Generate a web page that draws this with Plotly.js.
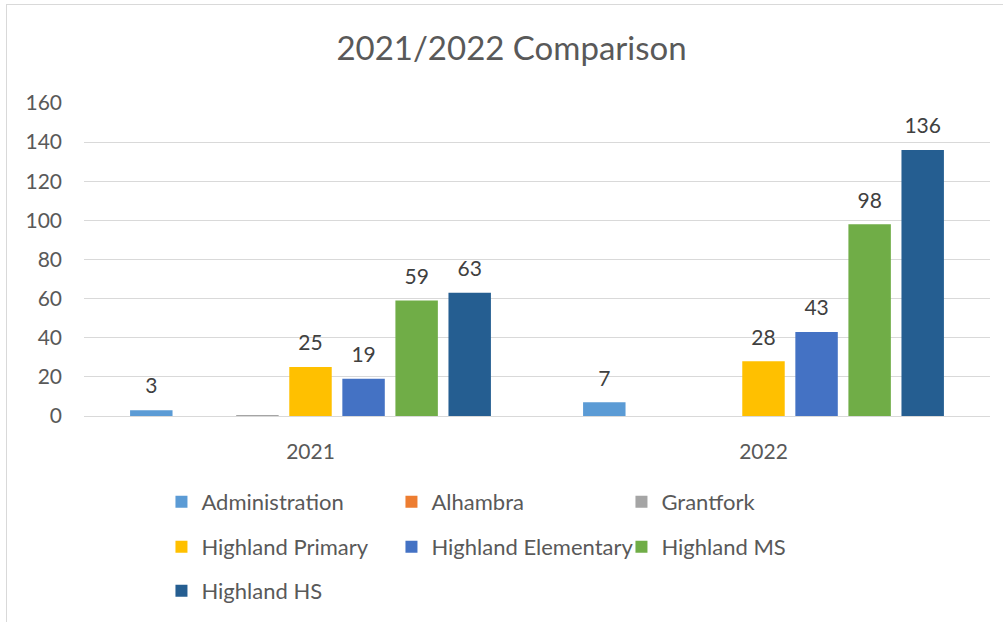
<!DOCTYPE html>
<html>
<head>
<meta charset="utf-8">
<script src="https://cdn.plot.ly/plotly-3.0.1.min.js"></script>
<style>
html,body{margin:0;padding:0;background:#fff;}
#chart{position:absolute;left:0;top:0;width:1003px;height:622px;}
#frame{position:absolute;left:6px;top:4px;width:1000px;height:620px;border:1px solid #d9d9d9;pointer-events:none;}
</style>
</head>
<body>
<div id="chart"></div>
<div id="frame"></div>
<script>
const years = ['2021', '2022'];
const seriesNames = ['Administration', 'Alhambra', 'Grantfork', 'Highland Primary', 'Highland Elementary', 'Highland MS', 'Highland HS'];
const administration = [3, 7];
const alhambra = [null, null];
const grantfork = [0.5, null];
const highlandPrimary = [25, 28];
const highlandElementary = [19, 43];
const highlandMS = [59, 98];
const highlandHS = [63, 136];
const colors = ['#5B9BD5', '#ED7D31', '#A5A5A5', '#FFC000', '#4472C4', '#70AD47', '#255E91'];

const allValues = [administration, alhambra, grantfork, highlandPrimary, highlandElementary, highlandMS, highlandHS];
const legendRows = ['legend', 'legend', 'legend', 'legend2', 'legend2', 'legend2', 'legend3'];
const FONT = 'Lato, "Open Sans", sans-serif';

const traces = allValues.map((vals, i) => ({
  type: 'bar',
  name: seriesNames[i],
  legend: legendRows[i],
  x: years,
  y: vals,
  marker: {color: colors[i]},
  text: vals.map(v => (v !== null && v >= 1) ? '<span style="font-size:21px">' + v + '</span><br>\u00a0' : ''),
  textposition: 'outside',
  constraintext: 'none',
  cliponaxis: false,
  textfont: {family: FONT, size: 9, color: '#404040'},
  hoverinfo: 'x+y+name'
}));

function legendAt(yPix) {
  return {
    orientation: 'h',
    x: 0.0855, xanchor: 'left',
    y: (417 - yPix) / 314, yanchor: 'middle',
    entrywidth: 185, entrywidthmode: 'pixels',
    bgcolor: 'rgba(0,0,0,0)',
    font: {family: FONT, size: 22, color: '#595959'},
    traceorder: 'normal',
    itemclick: false
  };
}

const layout = {
  width: 1003, height: 622,
  margin: {l: 84, r: 13, t: 103, b: 205},
  paper_bgcolor: 'rgba(0,0,0,0)',
  plot_bgcolor: 'rgba(0,0,0,0)',
  barmode: 'group',
  bargap: 0.18,
  bargroupgap: 0.2,
  font: {family: FONT, color: '#595959'},
  title: {
    text: '2021/2022 Comparison',
    font: {family: FONT, size: 33, color: '#595959'},
    x: 0.51, xanchor: 'center', y: 0.922, yanchor: 'middle'
  },
  xaxis: {
    type: 'category',
    showgrid: false,
    showline: true, linecolor: '#d9d9d9', linewidth: 1,
    ticks: '',
    ticklabelstandoff: 17,
    tickfont: {family: FONT, size: 21, color: '#595959'},
    zeroline: false
  },
  yaxis: {
    range: [0, 160],
    dtick: 20,
    showgrid: true, gridcolor: '#d9d9d9', gridwidth: 1,
    zeroline: false,
    showline: false,
    ticks: '',
    ticklabelstandoff: 21,
    tickfont: {family: FONT, size: 21, color: '#595959'}
  },
  showlegend: true,
  legend: legendAt(502),
  legend2: legendAt(547),
  legend3: legendAt(591)
};

Plotly.newPlot('chart', traces, layout, {displayModeBar: false, staticPlot: true});
</script>
</body>
</html>
